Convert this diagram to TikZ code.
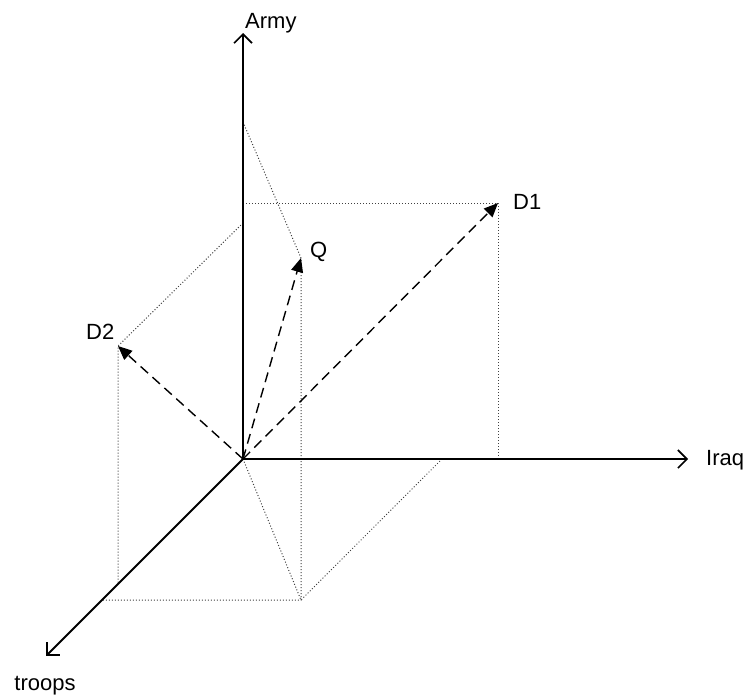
\documentclass[tikz,border=0pt]{standalone}
\usepackage{fontspec}
\setmainfont{Liberation Sans}
\usetikzlibrary{arrows.meta}
\tikzset{
  axis/.style={line width=2pt,-{Straight Barb[length=9pt,width=18pt,line width=1.6pt]}},
  vec/.style={line width=1.4pt,dash pattern=on 10pt off 6pt,-{Triangle[length=14pt,width=12pt]}},
  proj/.style={line width=1pt,black!75,dash pattern=on 1pt off 2pt},
  lbl/.style={inner sep=0pt,font=\fontsize{22}{26}\selectfont}
}

\begin{document}
\begin{tikzpicture}[x=1pt,y=-1pt]
\useasboundingbox (0,0) rectangle (746,694);
% axes
\coordinate (O) at (243,459);
\coordinate (army) at (243,33);
\coordinate (iraq) at (688,459);
\coordinate (troops) at (46,656);
% vectors
\coordinate (D1) at (498,203);
\coordinate (Q) at (301,258);
\coordinate (D2) at (118,346);
% projections
\coordinate (a1) at (243,203);
\coordinate (i1) at (498,459);
\coordinate (aq) at (243,122);
\coordinate (fq) at (301,600);
\coordinate (iq) at (442,459);
\coordinate (tf) at (102,600);
\coordinate (a2) at (243,223);
\coordinate (t2) at (118,584);
\draw[proj] (a1)--(D1)--(i1);
\draw[proj] (aq)--(Q)--(fq)--(tf);
\draw[proj] (O)--(fq)--(iq);
\draw[proj] (a2)--(D2)--(t2);
\draw[axis] (O)--(army);
\draw[axis] (O)--(iraq);
\draw[axis] (O)--(troops);
\foreach \v in {D1,Q,D2}{\draw[vec] (O)--(\v);}
\node[lbl,anchor=base west] (larmy) at (245,28) {Army};
\node[lbl,anchor=base west] (liraq) at (706,465) {Iraq};
\node[lbl,anchor=base] (ltroops) at (45,690) {troops};
\node[lbl,anchor=base west] (lD1) at (513,209) {D1};
\node[lbl,anchor=base west] (lQ) at (310,257) {Q};
\node[lbl,anchor=base west] (lD2) at (86,339) {D2};
\end{tikzpicture}
\end{document}
